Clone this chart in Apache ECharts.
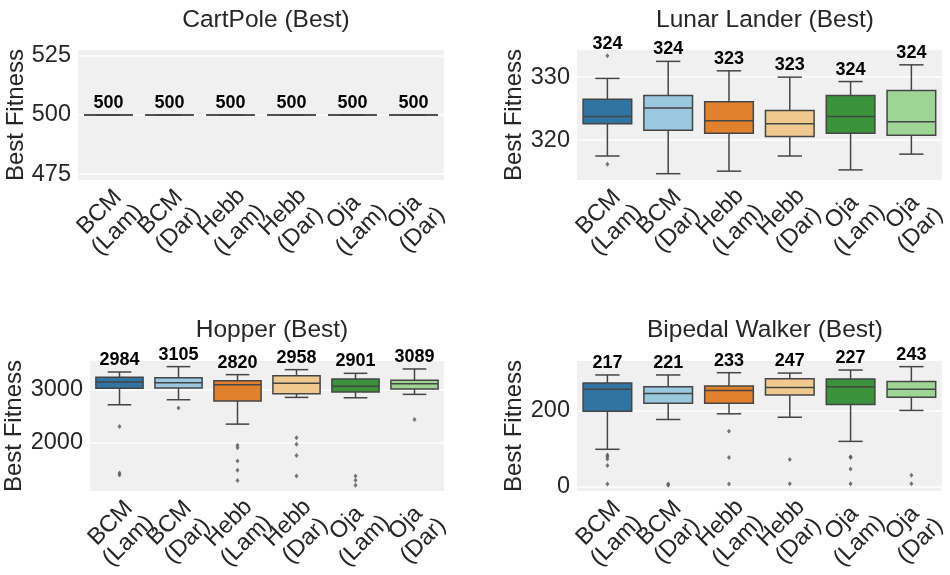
<!DOCTYPE html>
<html>
<head>
<meta charset="utf-8">
<script src="https://cdn.jsdelivr.net/npm/echarts@6/dist/echarts.min.js"></script>
<style>html,body{margin:0;padding:0;background:#fff}#c{width:950px;height:575px}</style>
</head>
<body>
<div id="c"></div>
<script>
// ---------- data ----------
const categories = ['BCM\n(Lam)', 'BCM\n(Dar)', 'Hebb\n(Lam)', 'Hebb\n(Dar)', 'Oja\n(Lam)', 'Oja\n(Dar)'];

// [min, Q1, median, Q3, max]
const cartpoleBoxes = [
  [500, 500, 500, 500, 500],
  [500, 500, 500, 500, 500],
  [500, 500, 500, 500, 500],
  [500, 500, 500, 500, 500],
  [500, 500, 500, 500, 500],
  [500, 500, 500, 500, 500]
];
const cartpoleOutliers = [];
const cartpoleMeans = [500, 500, 500, 500, 500, 500];
const cartpoleTicks = [475, 500, 525];

const lunarBoxes = [
  [317.5, 322.6, 323.75, 326.5, 329.8],
  [314.7, 321.6, 325.1, 327.1, 332.5],
  [315.1, 321.1, 323.1, 326.1, 331.0],
  [317.5, 320.6, 322.6, 324.7, 330.0],
  [315.3, 321.1, 323.75, 327.1, 329.3],
  [317.8, 320.8, 322.95, 327.9, 331.95]
];
const lunarOutliers = [[0, 333.4], [0, 316.2]];
const lunarMeans = [324, 324, 323, 323, 324, 324];
const lunarTicks = [320, 330];

const hopperBoxes = [
  [2710, 3019, 3138, 3226, 3327],
  [2805, 3025, 3126, 3220, 3428],
  [2346, 2780, 3088, 3164, 3277],
  [2849, 2918, 3113, 3258, 3371],
  [2842, 2950, 3057, 3195, 3302],
  [2906, 3006, 3107, 3170, 3384]
];
const hopperOutliers = [
  [0, 2302], [0, 1426], [0, 1390],
  [1, 2648],
  [2, 1950], [2, 1900], [2, 1653], [2, 1477], [2, 1283],
  [3, 2087], [3, 1968], [3, 1755], [3, 1370],
  [4, 1370], [4, 1289], [4, 1195],
  [5, 2434]
];
const hopperMeans = [2984, 3105, 2820, 2958, 2901, 3089];
const hopperTicks = [2000, 3000];

const bipedalBoxes = [
  [98, 199, 257, 274, 295],
  [177, 220, 246, 264, 295],
  [192, 220, 254, 266, 301],
  [183, 242, 262, 285, 300],
  [119, 217, 264, 284, 308],
  [201, 236, 257, 278, 317]
];
const bipedalOutliers = [
  [0, 83], [0, 78], [0, 72], [0, 55], [0, 6],
  [1, 6], [1, 3],
  [2, 146], [2, 76], [2, 6],
  [3, 71], [3, 7],
  [4, 78], [4, 76], [4, 46], [4, 7],
  [5, 29], [5, 7]
];
const bipedalMeans = [217, 221, 233, 247, 227, 243];
const bipedalTicks = [0, 200];

const titles = ['CartPole (Best)', 'Lunar Lander (Best)', 'Hopper (Best)', 'Bipedal Walker (Best)'];
const yName = 'Best Fitness';

// ---------- style ----------
const colors = ['#3274a1', '#9ac8de', '#e1812c', '#f1c98f', '#3a923a', '#9fd594'];
const FONT = '"Liberation Sans", Arial, sans-serif';
const TXT = '#262626';
const EDGE = '#454545';

const panels = [
  {boxes: cartpoleBoxes, out: cartpoleOutliers, means: cartpoleMeans, ticks: cartpoleTicks, min: 472.5, max: 527.5,
   grid: {left: 78, top: 50, width: 366, height: 130}, nameGap: 50, title: {x: 261, y: 3}},
  {boxes: lunarBoxes, out: lunarOutliers, means: lunarMeans, ticks: lunarTicks, min: 313.7, max: 334.3,
   grid: {left: 577, top: 50, width: 366, height: 130}, nameGap: 51, title: {x: 760, y: 3}},
  {boxes: hopperBoxes, out: hopperOutliers, means: hopperMeans, ticks: hopperTicks, min: 1087, max: 3534,
   grid: {left: 90, top: 361, width: 354, height: 130}, nameGap: 62, title: {x: 267, y: 313}},
  {boxes: bipedalBoxes, out: bipedalOutliers, means: bipedalMeans, ticks: bipedalTicks, min: -12.5, max: 332,
   grid: {left: 577, top: 361, width: 366, height: 130}, nameGap: 51, title: {x: 760, y: 313}}
];

function renderItem(params, api) {
  const x = api.value(0);
  const pMin = api.coord([x, api.value(1)]);
  const pQ1 = api.coord([x, api.value(2)]);
  const pMed = api.coord([x, api.value(3)]);
  const pQ3 = api.coord([x, api.value(4)]);
  const pMax = api.coord([x, api.value(5)]);
  const pTop = api.coord([x, api.value(7)]);
  const bw = api.size([1, 0])[0] * 0.8;
  const cx = pMed[0];
  const ls = {stroke: EDGE, lineWidth: 1.5};
  return {
    type: 'group',
    children: [
      {type: 'line', shape: {x1: cx, y1: pMin[1], x2: cx, y2: pQ1[1]}, style: ls},
      {type: 'line', shape: {x1: cx, y1: pQ3[1], x2: cx, y2: pMax[1]}, style: ls},
      {type: 'line', shape: {x1: cx - bw / 4, y1: pMin[1], x2: cx + bw / 4, y2: pMin[1]}, style: ls},
      {type: 'line', shape: {x1: cx - bw / 4, y1: pMax[1], x2: cx + bw / 4, y2: pMax[1]}, style: ls},
      {type: 'rect', shape: {x: cx - bw / 2, y: pQ3[1], width: bw, height: pQ1[1] - pQ3[1]},
       style: {fill: colors[x], stroke: EDGE, lineWidth: 1.5}},
      {type: 'line', shape: {x1: cx - bw / 2, y1: pMed[1], x2: cx + bw / 2, y2: pMed[1]}, style: ls},
      {type: 'text', style: {x: cx, y: pTop[1] - 3, text: String(api.value(6)), fill: '#000',
        font: 'bold 18px ' + FONT, align: 'center', verticalAlign: 'bottom'}}
    ]
  };
}

const option = {
  animation: false,
  backgroundColor: '#fff',
  title: [], grid: [], xAxis: [], yAxis: [], series: []
};

panels.forEach((p, i) => {
  option.title.push({text: titles[i], left: p.title.x, top: p.title.y, textAlign: 'center',
    textStyle: {fontFamily: FONT, fontSize: 24.5, fontWeight: 'normal', color: TXT}});
  option.grid.push(Object.assign({show: true, backgroundColor: '#f0f0f0', borderWidth: 0, containLabel: false}, p.grid));
  option.xAxis.push({type: 'category', gridIndex: i, data: categories, boundaryGap: true,
    axisLine: {show: false}, axisTick: {show: false}, splitLine: {show: false},
    axisLabel: {rotate: 45, align: 'center', verticalAlign: 'middle', margin: 41, interval: 0,
      fontFamily: FONT, fontSize: 23.5, lineHeight: 25, color: TXT}});
  option.yAxis.push({type: 'value', gridIndex: i, min: p.min, max: p.max,
    name: yName, nameLocation: 'middle', nameGap: p.nameGap, nameRotate: 90,
    nameTextStyle: {fontFamily: FONT, fontSize: 24, color: TXT},
    axisLine: {show: false}, axisTick: {show: false, customValues: p.ticks},
    axisLabel: {customValues: p.ticks, formatter: v => String(v), fontFamily: FONT, fontSize: 23.5, color: TXT, margin: 7},
    splitLine: {show: true, lineStyle: {color: '#fff', width: 1.5}}});
  const data = p.boxes.map((b, k) => {
    let top = b[4];
    p.out.forEach(o => { if (o[0] === k && o[1] > top) top = o[1]; });
    return [k, b[0], b[1], b[2], b[3], b[4], p.means[k], top];
  });
  option.series.push({type: 'custom', xAxisIndex: i, yAxisIndex: i, renderItem: renderItem,
    encode: {x: 0, y: [1, 2, 3, 4, 5]}, data: data, clip: false});
  option.series.push({type: 'scatter', xAxisIndex: i, yAxisIndex: i, data: p.out,
    symbol: 'diamond', symbolSize: [4, 5], itemStyle: {color: '#555'}, silent: true});
});

const chart = echarts.init(document.getElementById('c'), null, {renderer: 'canvas'});
chart.setOption(option);
</script>
</body>
</html>
